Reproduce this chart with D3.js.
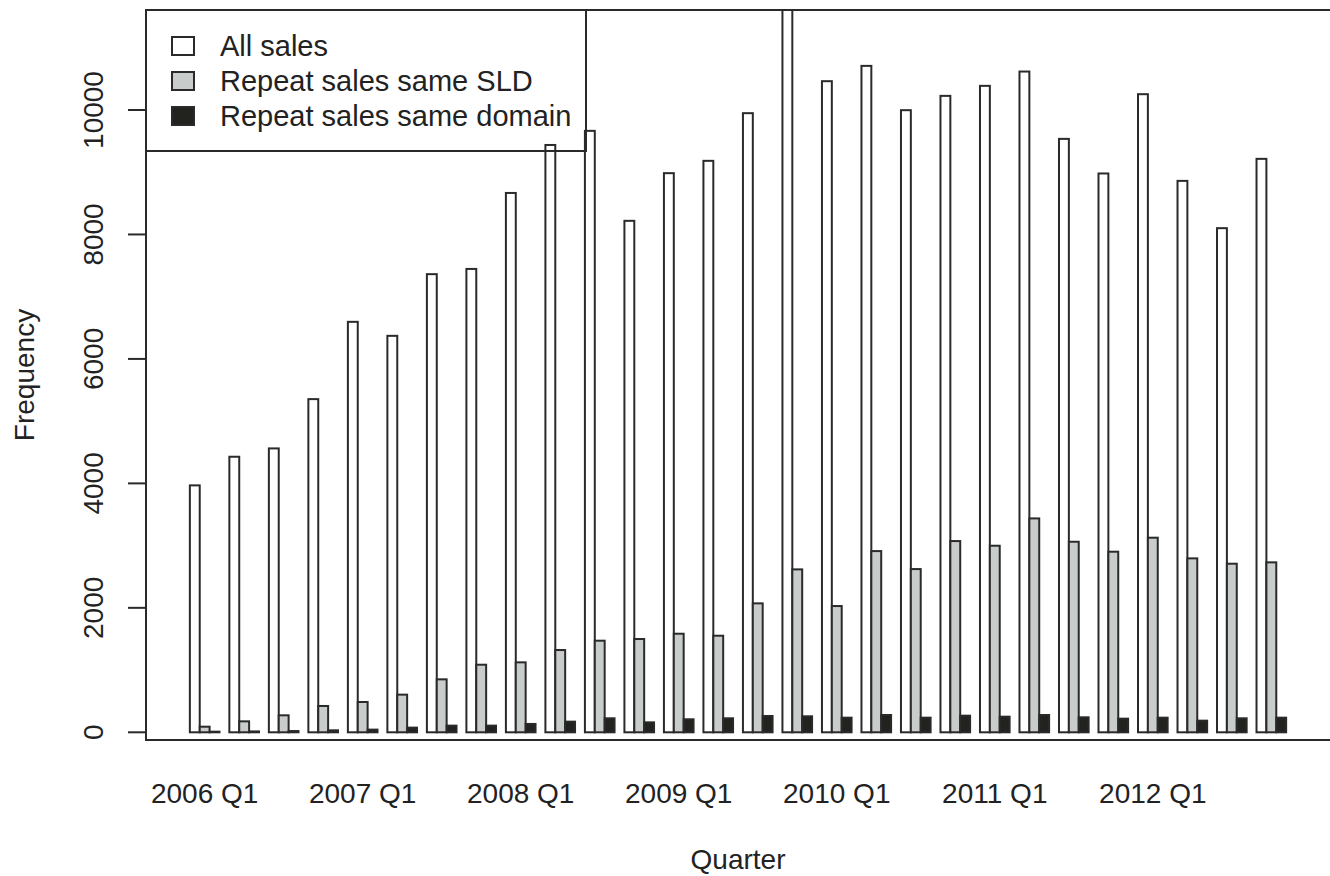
<!DOCTYPE html>
<html>
<head>
<meta charset="utf-8">
<script src="https://cdn.jsdelivr.net/npm/d3@7"></script>
<style>
  html, body { margin: 0; padding: 0; background: #fff; }
  svg { display: block; }
  text { font-family: "Liberation Sans", Arial, Helvetica, sans-serif; fill: #222; }
</style>
</head>
<body>
<svg id="chart" width="1330" height="876"></svg>
<script>
const quarters = ["2006 Q1","2006 Q2","2006 Q3","2006 Q4","2007 Q1","2007 Q2","2007 Q3","2007 Q4",
  "2008 Q1","2008 Q2","2008 Q3","2008 Q4","2009 Q1","2009 Q2","2009 Q3","2009 Q4",
  "2010 Q1","2010 Q2","2010 Q3","2010 Q4","2011 Q1","2011 Q2","2011 Q3","2011 Q4",
  "2012 Q1","2012 Q2","2012 Q3","2012 Q4"];
const allSales = [3968, 4428, 4562, 5354, 6596, 6371, 7362, 7446, 8667, 9438, 9665, 8219, 8985, 9183,
  9949, 11700, 10463, 10709, 9997, 10227, 10388, 10618, 9536, 8980, 10254, 8861, 8101, 9215];
const repeatSLD = [90, 176, 273, 423, 487, 605, 851, 1086, 1124, 1322, 1472, 1499, 1584, 1552,
  2072, 2618, 2029, 2912, 2623, 3073, 2998, 3437, 3062, 2902, 3127, 2795, 2709, 2731];
const repeatDomain = [10, 14, 20, 32, 43, 75, 107, 107, 134, 171, 225, 160, 209, 225,
  262, 257, 235, 278, 235, 267, 251, 278, 241, 219, 235, 187, 225, 235];
const seriesNames = ["All sales", "Repeat sales same SLD", "Repeat sales same domain"];
const seriesColors = ["#ffffff", "#c8cccb", "#22231f"];
const yTicks = [0, 2000, 4000, 6000, 8000, 10000];
const xLabels = ["2006 Q1", "2007 Q1", "2008 Q1", "2009 Q1", "2010 Q1", "2011 Q1", "2012 Q1"];

const svg = d3.select("#chart");
const box = {left: 146, right: 1330, top: 10, bottom: 740};
const stroke = "#2a2a2a";

// x in "bar units": each group = 3 bars + 1 space, first bar starts at 1
const nGroups = quarters.length;
const xMin = 1, xMax = nGroups * 4;
const ext = (xMax - xMin) * 0.04;
const x = d3.scaleLinear().domain([xMin - ext, xMax + ext]).range([box.left, box.right]);
const y = d3.scaleLinear().domain([0, 10000]).range([732.3, 110]);

svg.append("clipPath").attr("id", "plotclip")
  .append("rect").attr("x", box.left).attr("y", box.top)
  .attr("width", box.right - box.left).attr("height", box.bottom - box.top);

const series = [allSales, repeatSLD, repeatDomain];
const bars = [];
series.forEach((vals, s) => vals.forEach((v, g) => bars.push({g, s, v})));

svg.append("g").attr("clip-path", "url(#plotclip)")
  .selectAll("rect").data(bars).join("rect")
  .attr("x", d => x(1 + 4 * d.g + d.s))
  .attr("width", d => x(2 + 4 * d.g + d.s) - x(1 + 4 * d.g + d.s))
  .attr("y", d => y(d.v))
  .attr("height", d => y(0) - y(d.v))
  .attr("fill", d => seriesColors[d.s])
  .attr("stroke", stroke)
  .attr("stroke-width", 2);

// plot box (no right side visible)
svg.append("path")
  .attr("d", `M${box.right},${box.top}H${box.left}V${box.bottom}H${box.right}`)
  .attr("fill", "none").attr("stroke", stroke).attr("stroke-width", 2);

// y axis ticks
const yAxis = svg.append("g");
yAxis.selectAll("line").data(yTicks).join("line")
  .attr("x1", 128).attr("x2", box.left)
  .attr("y1", d => y(d)).attr("y2", d => y(d))
  .attr("stroke", stroke).attr("stroke-width", 2);
yAxis.selectAll("text").data(yTicks).join("text")
  .attr("transform", d => `translate(103,${y(d)}) rotate(-90)`)
  .attr("text-anchor", "middle")
  .style("font-size", "28px")
  .text(d => d);

// x labels
svg.append("g").selectAll("text").data(xLabels).join("text")
  .attr("x", (d, i) => x(1 + 4 * (i * 4) + 1.5))
  .attr("y", 803)
  .attr("text-anchor", "middle")
  .style("font-size", "28px")
  .text(d => d);

// axis titles
svg.append("text").attr("x", (box.left + box.right) / 2).attr("y", 869)
  .attr("text-anchor", "middle").style("font-size", "28px").text("Quarter");
svg.append("text").attr("transform", `translate(34,375) rotate(-90)`)
  .attr("text-anchor", "middle").style("font-size", "28px").text("Frequency");

// legend
const lg = svg.append("g");
lg.append("rect").attr("x", box.left).attr("y", box.top)
  .attr("width", 586 - box.left).attr("height", 151 - box.top)
  .attr("fill", "none").attr("stroke", stroke).attr("stroke-width", 2);
seriesNames.forEach((name, i) => {
  const cy = 46 + 35 * i;
  lg.append("rect").attr("x", 172).attr("y", cy - 9).attr("width", 22).attr("height", 18)
    .attr("fill", seriesColors[i]).attr("stroke", stroke).attr("stroke-width", 2);
  lg.append("text").attr("x", 220).attr("y", cy + 10)
    .style("font-size", "29px").text(name);
});
</script>
</body>
</html>
